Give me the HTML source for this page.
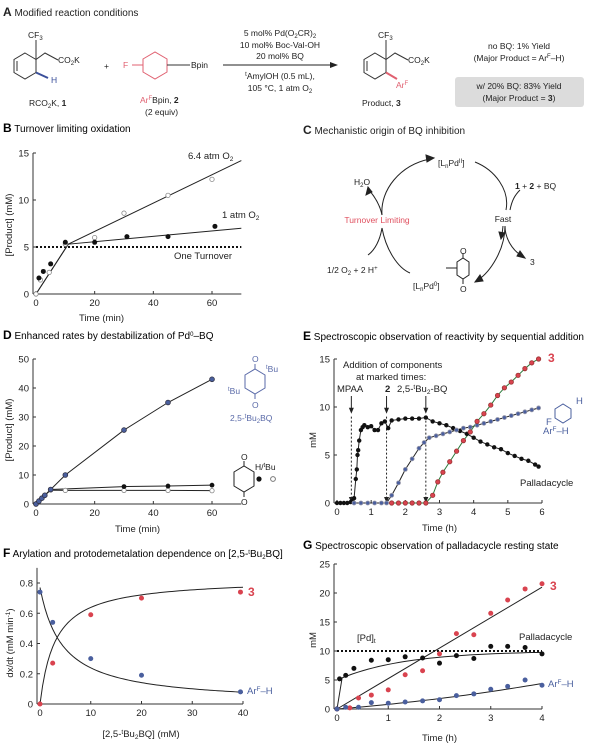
<!DOCTYPE html>
<html><head><meta charset="utf-8">
<style>
html,body{margin:0;padding:0;background:#fff;}
body{width:600px;height:745px;overflow:hidden;font-family:"Liberation Sans",sans-serif;}
svg text{font-family:"Liberation Sans",sans-serif;}
</style></head>
<body>
<svg id="fig" width="600" height="745" viewBox="0 0 600 745" xmlns="http://www.w3.org/2000/svg">
<!-- Panel A -->
<g font-size="8.5" fill="#222">
  <text x="3" y="16" font-size="10"><tspan font-weight="bold" font-size="12">A</tspan> Modified reaction conditions</text>
  <g stroke="#333" fill="none" stroke-width="1">
    <polygon points="25,53 36,59.5 36,72.5 25,79 14,72.5 14,59.5"/>
    <line x1="17" y1="61" x2="17" y2="71"/>
    <line x1="36" y1="59.5" x2="36" y2="40"/>
    <polyline points="36,59.5 45,53 58,60"/>
    <line x1="36" y1="72.5" x2="48" y2="78" stroke="#3a4f9a" stroke-width="2"/>
  </g>
  <text x="28" y="38">CF<tspan font-size="6" dy="2">3</tspan></text>
  <text x="58" y="63">CO<tspan font-size="6" dy="2">2</tspan><tspan dy="-2">K</tspan></text>
  <text x="51" y="83" fill="#3a4f9a">H</text>
  <text x="29" y="106">RCO<tspan font-size="6" dy="2">2</tspan><tspan dy="-2">K, </tspan><tspan font-weight="bold">1</tspan></text>
  <text x="104" y="69">+</text>
  <g stroke="#e06070" fill="none">
    <polygon points="143,59 155,52 167,59 167,72 155,79 143,72"/>
    <line x1="132" y1="65" x2="143" y2="65"/>
    <line x1="167" y1="65" x2="190" y2="65" stroke="#333"/>
  </g>
  <text x="123" y="68" fill="#e06070">F</text>
  <text x="191" y="68">Bpin</text>
  <text x="140" y="103"><tspan fill="#e06070">Ar<tspan font-size="6" dy="-3">F</tspan></tspan><tspan dy="3">Bpin, </tspan><tspan font-weight="bold">2</tspan></text>
  <text x="145" y="115">(2 equiv)</text>
  <g text-anchor="middle">
    <text x="280" y="36">5 mol% Pd(O<tspan font-size="6" dy="2">2</tspan><tspan dy="-2">CR)</tspan><tspan font-size="6" dy="2">2</tspan></text>
    <text x="280" y="48">10 mol% Boc-Val-OH</text>
    <text x="280" y="59">20 mol% BQ</text>
    <text x="280" y="79"><tspan font-size="6" dy="-3">t</tspan><tspan dy="3">AmylOH (0.5 mL),</tspan></text>
    <text x="280" y="91">105 °C, 1 atm O<tspan font-size="6" dy="2">2</tspan></text>
  </g>
  <line x1="223" y1="65" x2="333" y2="65" stroke="#222"/>
  <polygon points="338,65 330,62 330,68" fill="#222"/>
  <g stroke="#333" fill="none">
    <polygon points="375,53 386,59.5 386,72.5 375,79 364,72.5 364,59.5"/>
    <line x1="367" y1="61" x2="367" y2="71"/>
    <line x1="386" y1="59.5" x2="386" y2="40"/>
    <polyline points="386,59.5 395,53 408,60"/>
    <line x1="386" y1="72.5" x2="397" y2="79" stroke="#e06070" stroke-width="2"/>
  </g>
  <text x="378" y="38">CF<tspan font-size="6" dy="2">3</tspan></text>
  <text x="408" y="63">CO<tspan font-size="6" dy="2">2</tspan><tspan dy="-2">K</tspan></text>
  <text x="396" y="88" fill="#e06070">Ar<tspan font-size="6" dy="-3">F</tspan></text>
  <text x="362" y="106">Product, <tspan font-weight="bold">3</tspan></text>
  <text x="519" y="49" text-anchor="middle">no BQ: 1% Yield</text>
  <text x="519" y="61" text-anchor="middle">(Major Product = Ar<tspan font-size="6" dy="-3">F</tspan><tspan dy="3">–H)</tspan></text>
  <rect x="455" y="77" width="129" height="30" rx="3" fill="#dcdcdc"/>
  <text x="519" y="89" text-anchor="middle">w/ 20% BQ: 83% Yield</text>
  <text x="519" y="101" text-anchor="middle">(Major Product = <tspan font-weight="bold">3</tspan>)</text>
</g>
<!-- Panel C -->
<g font-size="8.5" fill="#222">
  <text x="303" y="134" font-size="10"><tspan font-weight="bold" font-size="12">C</tspan> Mechanistic origin of BQ inhibition</text>
  <g stroke="#222" fill="none" stroke-width="1">
    <path d="M382,215 C380,190 400,165 430,159"/>
    <polygon points="434,158 426,155 427,162" fill="#222"/>
    <path d="M382,215 C380,205 375,197 369,190" />
    <polygon points="368,187 366,195 372,192" fill="#222"/>
    <path d="M475,162 C495,170 510,190 506,210"/>
    <path d="M510,210 C512,200 515,195 520,190"/>
    <path d="M505,226 C505,250 490,272 478,280"/>
    <polygon points="475,282 483,281 480,275" fill="#222"/>
    <path d="M505,226 C505,238 512,250 522,256"/>
    <polygon points="525,258 520,251 517,256" fill="#222"/>
    <path d="M503,226 L502,235"/>
    <polygon points="501,239 499,232 505,233" fill="#222"/>
    <path d="M410,273 C398,268 386,250 382,228"/>
    <path d="M382,228 C380,240 375,250 368,255"/>
    <polygon points="457,262 463,258 469,262 469,275 463,279 457,275"/>
    <line x1="463" y1="258" x2="463" y2="253"/>
    <line x1="463" y1="279" x2="463" y2="284"/>
    <line x1="446" y1="268" x2="457" y2="268"/>
  </g>
  <text x="438" y="166">[L<tspan font-size="6" dy="2">n</tspan><tspan dy="-2">Pd</tspan><tspan font-size="6" dy="-3">II</tspan><tspan dy="3">]</tspan></text>
  <text x="354" y="185">H<tspan font-size="6" dy="2">2</tspan><tspan dy="-2">O</tspan></text>
  <text x="515" y="189"><tspan font-weight="bold">1</tspan> + <tspan font-weight="bold">2</tspan> + BQ</text>
  <text x="377" y="223" text-anchor="middle" fill="#e0505f">Turnover Limiting</text>
  <text x="503" y="222" text-anchor="middle">Fast</text>
  <text x="530" y="265">3</text>
  <text x="327" y="273">1/2 O<tspan font-size="6" dy="2">2</tspan><tspan dy="-2"> + 2 H</tspan><tspan font-size="6" dy="-3">+</tspan></text>
  <text x="413" y="289">[L<tspan font-size="6" dy="2">n</tspan><tspan dy="-2">Pd</tspan><tspan font-size="6" dy="-3">0</tspan><tspan dy="3">]</tspan></text>
  <text x="460" y="254">O</text>
  <text x="460" y="292">O</text>
</g>
<!-- Panel titles -->
<text x="3" y="132" font-size="10"><tspan font-weight="bold" font-size="12">B</tspan> Turnover limiting oxidation</text>
<text x="3" y="339" font-size="10"><tspan font-weight="bold" font-size="12">D</tspan> Enhanced rates by destabilization of Pd<tspan font-size="6" dy="-3">0</tspan><tspan dy="3">–BQ</tspan></text>
<text x="303" y="340" font-size="10"><tspan font-weight="bold" font-size="12">E</tspan> Spectroscopic observation of reactivity by sequential addition</text>
<text x="3" y="557" font-size="10"><tspan font-weight="bold" font-size="12">F</tspan> Arylation and protodemetalation dependence on [2,5-<tspan font-size="6" dy="-3">t</tspan><tspan dy="3">Bu</tspan><tspan font-size="6" dy="2">2</tspan><tspan dy="-2">BQ]</tspan></text>
<text x="303" y="549" font-size="10"><tspan font-weight="bold" font-size="12">G</tspan> Spectroscopic observation of palladacycle resting state</text>
<!-- D annotations -->
<g font-size="8.5" fill="#5a6aa8">
  <g stroke="#5a6aa8" fill="none">
    <polygon points="245,375 255,369 265,375 265,388 255,394 245,388"/>
    <line x1="255" y1="369" x2="255" y2="364"/><line x1="255" y1="394" x2="255" y2="399"/>
  </g>
  <text x="252" y="362">O</text><text x="252" y="408">O</text>
  <text x="266" y="372"><tspan font-size="6" dy="-3">t</tspan><tspan dy="3">Bu</tspan></text>
  <text x="228" y="394"><tspan font-size="6" dy="-3">t</tspan><tspan dy="3">Bu</tspan></text>
  <text x="230" y="421">2,5-<tspan font-size="6" dy="-3">t</tspan><tspan dy="3">Bu</tspan><tspan font-size="6" dy="2">2</tspan><tspan dy="-2">BQ</tspan></text>
</g>
<g font-size="8.5" fill="#222">
  <g stroke="#222" fill="none">
    <polygon points="234,472 244,466 254,472 254,486 244,492 234,486"/>
    <line x1="244" y1="466" x2="244" y2="461"/><line x1="244" y1="492" x2="244" y2="497"/>
  </g>
  <text x="241" y="460">O</text><text x="241" y="505">O</text>
  <text x="255" y="470">H/<tspan font-size="6" dy="-3">t</tspan><tspan dy="3">Bu</tspan></text>
  <circle cx="259" cy="479" r="2.6" fill="#111"/><circle cx="273" cy="479" r="2.4" fill="#fff" stroke="#777"/>
</g>
<g id="charts"></g>
</svg>
<script>
// ---------- data ----------
const bTime1 = [1, 2.5, 5, 10, 20, 31, 45, 61];
const bProd1 = [1.7, 2.4, 3.2, 5.5, 5.5, 6.1, 6.1, 7.2];
const bTime64 = [0, 1.5, 4.5, 10, 20, 30, 45, 60];
const bProd64 = [0, 1.5, 2.3, 5.3, 6.0, 8.6, 10.5, 12.2];
const bFitT = [0, 11, 70];
const bFit1 = [0, 5.3, 7.0];
const bFit64 = [0, 5.3, 14.2];
const bTicksX = [0, 20, 40, 60];
const bTicksY = [0, 5, 10, 15];

const dTime = [0, 1, 2, 3, 5, 10, 30, 45, 60];
const dBlue = [0, 1, 2, 3, 5, 10, 25.5, 35, 43];
const dTimeBQ = [0, 1, 2, 3, 5, 30, 45, 60];
const dFilled = [0, 1, 2, 3, 5, 6, 6.2, 6.5];
const dTimeH = [0, 1, 2, 3, 5, 10, 30, 45, 60];
const dOpen = [0, 1, 2, 3, 4.8, 4.7, 4.7, 4.7, 4.6];
const dTicksX = [0, 20, 40, 60];
const dTicksY = [0, 10, 20, 30, 40, 50];

const eTimePd = [0,0.1,0.2,0.3,0.4,0.45,0.5,0.55,0.58,0.6,0.62,0.65,0.7,0.75,0.8,0.9,1.0,1.1,1.2,1.3,1.4,1.5,1.6,1.8,2.0,2.2,2.4,2.6,2.8,3.0,3.2,3.4,3.6,3.8,4.0,4.2,4.4,4.6,4.8,5.0,5.2,5.4,5.6,5.8,5.9];
const ePd = [0,0,0,0,0.1,0.2,0.5,2.5,3.5,5,5.5,6.5,7.6,7.9,8.1,7.9,8.0,7.6,7.6,8.3,8.5,7.8,8.6,8.7,8.8,8.8,8.8,8.9,8.5,8.3,8.1,7.8,7.5,7.2,6.8,6.4,6.1,5.8,5.6,5.2,4.9,4.6,4.4,4.0,3.8];
const eTimeAr = [0.5,0.7,0.9,1.1,1.3,1.45,1.6,1.8,2.0,2.2,2.4,2.55,2.7,2.9,3.1,3.3,3.5,3.7,3.9,4.1,4.3,4.5,4.7,4.9,5.1,5.3,5.5,5.7,5.9];
const eAr = [0,0,0,0,0,0,0.8,2.1,3.5,4.6,5.7,6.3,6.8,7.0,7.2,7.4,7.6,7.8,7.9,8.1,8.3,8.5,8.7,8.9,9.1,9.3,9.5,9.7,9.9];
const eTime3 = [1.6,1.8,2.0,2.2,2.4,2.6,2.8,2.95,3.1,3.3,3.5,3.7,3.9,4.1,4.3,4.5,4.7,4.9,5.1,5.3,5.5,5.7,5.9];
const e3 = [0,0,0,0,0,0,0.8,2.2,3.2,4.3,5.4,6.5,7.4,8.5,9.3,10.2,11.2,12.0,12.6,13.3,14.0,14.6,15.0];
const eAdd = [0.42, 1.45, 2.6];
const eTicksX = [0,1,2,3,4,5,6];
const eTicksY = [0,5,10,15];

const fConc = [0, 2.5, 10, 20, 39.5];
const fArH = [0.74, 0.54, 0.30, 0.19, 0.08];
const f3 = [0.0, 0.27, 0.59, 0.70, 0.74];
const fFit3 = [0.83, 3.0];      // Vmax, K (saturation fit)
const fFitArH = [0.77, 4.5, 0.04]; // amplitude, K, offset
const fTicksX = [0,10,20,30,40];
const fTicksY = [0,0.2,0.4,0.6,0.8];

const gTime = [0,0.25,0.42,0.67,1,1.33,1.67,2,2.33,2.67,3,3.33,3.67,4];
const g3 = [0,0.2,1.9,2.4,3.3,5.9,6.6,9.5,13,12.8,16.5,18.8,20.7,21.6];
const gTimePd = [0,0.05,0.17,0.33,0.67,1,1.33,1.67,2,2.33,2.67,3,3.33,3.67,4];
const gPd = [0,5.2,5.8,7.0,8.4,8.5,9,8.8,7.9,9.2,8.7,10.8,10.8,10.6,9.5];
const gTimeAr = [0,0.17,0.42,0.67,1,1.33,1.67,2,2.33,2.67,3,3.33,3.67,4];
const gAr = [0,0.3,0.3,1.1,1,1.2,1.4,1.6,2.3,2.6,3.4,3.9,5,4.1];
const gFitT = [0, 4];
const gFit3 = [0, 21];
const gTicksX = [0,1,2,3,4];
const gTicksY = [0,5,10,15,20,25];

// ---------- helpers ----------
const NS = 'http://www.w3.org/2000/svg';
const root = document.getElementById('charts');
function mk(tag, attrs, parent) {
  const e = document.createElementNS(NS, tag);
  for (const k in attrs) e.setAttribute(k, attrs[k]);
  (parent || root).appendChild(e);
  return e;
}
function scale(d0, d1, r0, r1) { return v => r0 + (v - d0) * (r1 - r0) / (d1 - d0); }
function axes(g, sx, sy, xt, yt, xr, yr, fmtY) {
  const xa = mk('line', {x1: sx(xr[0]), x2: sx(xr[1]), y1: sy(yr[0]), y2: sy(yr[0]), stroke: '#333'}, g);
  
  
  const ya = mk('line', {x1: sx(xr[0]) - 3, x2: sx(xr[0]) - 3, y1: sy(yr[0]), y2: sy(yr[1]), stroke: '#333'}, g);
  
  
  xt.forEach(v => {
    mk('line', {x1: sx(v), x2: sx(v), y1: sy(yr[0]), y2: sy(yr[0]) - 3, stroke: '#333'}, g);
    const t = mk('text', {x: sx(v), y: sy(yr[0]) + 12, 'text-anchor': 'middle', 'font-size': 9.5, fill: '#222'}, g);
    t.textContent = v;
    
    
  });
  yt.forEach(v => {
    mk('line', {x1: sx(xr[0]) - 3, x2: sx(xr[0]), y1: sy(v), y2: sy(v), stroke: '#333'}, g);
    const t = mk('text', {x: sx(xr[0]) - 7, y: sy(v) + 3.5, 'text-anchor': 'end', 'font-size': 9.5, fill: '#222'}, g);
    t.textContent = fmtY ? fmtY(v) : v;
    
    
  });
}
function label(g, x, y, txt, opts, name) {
  const t = mk('text', Object.assign({x, y, 'font-size': 9.5, fill: '#222'}, opts || {}), g);
  t.innerHTML = txt;
  
  
  return t;
}
function line(g, xs, ys, sx, sy, attrs, name) {
  const p = mk('polyline', Object.assign({points: xs.map((x, i) => sx(x) + ',' + sy(ys[i])).join(' '), fill: 'none', stroke: '#222', 'stroke-width': 1}, attrs || {}), g);
  
  
  return p;
}
function pts(g, xs, ys, sx, sy, fill, stroke, r, name) {
  xs.forEach((x, i) => {
    const c = mk('circle', {cx: sx(x), cy: sy(ys[i]), r: r || 2.5, fill, stroke: stroke || 'none', 'stroke-width': 0.8}, g);
    
    
  });
}
function group(name) {
  const g = mk('g', {});
  
  
  return g;
}
const RED = '#d9434f', BLUE = '#4a5f9e';

// ---------- B ----------
(function () {
  const g = group('chart-b');
  const sx = scale(0, 60, 36, 212), sy = scale(0, 15, 294, 153);
  axes(g, sx, sy, bTicksX, bTicksY, [0, 70], [0, 15]);
  label(g, 79, 321, 'Time (min)', {}, 'x-axis-title');
  label(g, 0, 0, '[Product] (mM)', {transform: 'translate(12,225) rotate(-90)', 'text-anchor': 'middle'}, 'y-axis-title');
  const dl = mk('line', {x1: sx(0), x2: sx(70), y1: sy(5), y2: sy(5), stroke: '#111', 'stroke-width': 2, 'stroke-dasharray': '2,2'}, g);
  
  
  label(g, 174, 259, 'One Turnover', {}, 'one-turnover-label');
  line(g, bFitT, bFit64, sx, sy, {}, 'fit-6-4-atm');
  line(g, bFitT, bFit1, sx, sy, {}, 'fit-1-atm');
  pts(g, bTime64, bProd64, sx, sy, '#fff', '#888', 2.2, 'point-6-4-atm');
  pts(g, bTime1, bProd1, sx, sy, '#111', null, 2.5, 'point-1-atm');
  label(g, 188, 159, '6.4 atm O<tspan font-size="6.5" dy="2">2</tspan>', {}, 'label-6-4-atm');
  label(g, 222, 218, '1 atm O<tspan font-size="6.5" dy="2">2</tspan>', {}, 'label-1-atm');
})();

// ---------- D ----------
(function () {
  const g = group('chart-d');
  const sx = scale(0, 60, 36, 212), sy = scale(0, 50, 504, 359);
  axes(g, sx, sy, dTicksX, dTicksY, [0, 70], [0, 50]);
  label(g, 115, 532, 'Time (min)', {}, 'x-axis-title');
  label(g, 0, 0, '[Product] (mM)', {transform: 'translate(12,430) rotate(-90)', 'text-anchor': 'middle'}, 'y-axis-title');
  line(g, dTime, dBlue, sx, sy, {}, 'curve-tbu2bq');
  line(g, dTimeBQ, dFilled, sx, sy, {}, 'curve-bq');
  line(g, dTimeH, dOpen, sx, sy, {}, 'curve-tbubq');
  pts(g, dTimeH, dOpen, sx, sy, '#fff', '#888', 2.2, 'point-tbubq');
  pts(g, dTimeBQ, dFilled, sx, sy, '#111', null, 2.4, 'point-bq');
  pts(g, dTime, dBlue, sx, sy, BLUE, '#334', 2.4, 'point-tbu2bq');
})();

// ---------- E ----------
(function () {
  const g = group('chart-e');
  const sx = scale(0, 6, 337, 542), sy = scale(0, 15, 503, 359);
  axes(g, sx, sy, eTicksX, eTicksY, [0, 6], [0, 15]);
  label(g, 422, 531, 'Time (h)', {}, 'x-axis-title');
  label(g, 0, 0, 'mM', {transform: 'translate(316,440) rotate(-90)', 'text-anchor': 'middle'}, 'y-axis-title');
  label(g, 343, 368, 'Addition of components', {}, 'addition-note');
  label(g, 356, 380, 'at marked times:', {}, 'addition-note-2');
  label(g, 337, 392, 'MPAA', {}, 'mpaa-label');
  label(g, 385, 392, '<tspan font-weight="bold">2</tspan>', {}, 'reagent-2-label');
  label(g, 397, 392, '2,5-<tspan font-size="6.5" dy="-3">t</tspan><tspan dy="3">Bu</tspan><tspan font-size="6.5" dy="2">2</tspan><tspan dy="-2">-BQ</tspan>', {}, 'bq-add-label');
  eAdd.forEach(t => {
    const a = mk('line', {x1: sx(t), x2: sx(t), y1: 396, y2: sy(9.5), stroke: '#222'}, g);
    
    
    mk('polygon', {points: `${sx(t)},${sy(9.3)} ${sx(t) - 2.5},${sy(9.3) - 6} ${sx(t) + 2.5},${sy(9.3) - 6}`, fill: '#222'}, g);
    const d = mk('line', {x1: sx(t), x2: sx(t), y1: sy(9), y2: sy(0), stroke: '#222', 'stroke-dasharray': '2,2'}, g);
    
    
    mk('polygon', {points: `${sx(t)},${sy(0)} ${sx(t) - 2.5},${sy(0) - 6} ${sx(t) + 2.5},${sy(0) - 6}`, fill: '#222'}, g);
  });
  line(g, eTimePd, ePd, sx, sy, {}, 'fit-palladacycle');
  line(g, eTimeAr, eAr, sx, sy, {}, 'fit-arf-h');
  line(g, eTime3, e3, sx, sy, {stroke: '#2a7a3a'}, 'fit-product-3');
  pts(g, eTimePd, ePd, sx, sy, '#111', null, 2.2, 'point-palladacycle');
  pts(g, eTimeAr, eAr, sx, sy, BLUE, '#99a', 2, 'point-arf-h');
  pts(g, eTime3, e3, sx, sy, RED, '#933', 2.2, 'point-product-3');
  label(g, 548, 362, '3', {fill: RED, 'font-size': 12, 'font-weight': 'bold'}, 'label-3');
  label(g, 520, 486, 'Palladacycle', {}, 'label-palladacycle');
  label(g, 543, 434, 'Ar<tspan font-size="6.5" dy="-3">F</tspan><tspan dy="3">–H</tspan>', {fill: BLUE}, 'label-arf-h');
  const ring = mk('polygon', {points: '555,409 563,404 571,409 571,418 563,423 555,418', fill: 'none', stroke: BLUE}, g);
  
  
  label(g, 546, 425, 'F', {fill: BLUE}, 'label-f');
  label(g, 576, 404, 'H', {fill: BLUE}, 'label-h');
})();

// ---------- F ----------
(function () {
  const g = group('chart-f');
  const sx = scale(0, 40, 40, 243), sy = scale(0, 0.8, 704, 583);
  axes(g, sx, sy, fTicksX, fTicksY, [0, 40], [0, 0.9], v => v === 0 ? '0' : v.toFixed(1));
  label(g, 141, 737, '[2,5-<tspan font-size="6.5" dy="-3">t</tspan><tspan dy="3">Bu</tspan><tspan font-size="6.5" dy="2">2</tspan><tspan dy="-2">BQ] (mM)</tspan>', {'text-anchor': 'middle'}, 'x-axis-title');
  label(g, 0, 0, 'dx/dt (mM min<tspan font-size="6.5" dy="-3">-1</tspan><tspan dy="3">)</tspan>', {transform: 'translate(13,643) rotate(-90)', 'text-anchor': 'middle'}, 'y-axis-title');
  const xs = [];
  for (let i = 0; i <= 80; i++) xs.push(i * 0.5);
  line(g, xs, xs.map(x => fFit3[0] * x / (fFit3[1] + x)), sx, sy, {}, 'fit-product-3');
  line(g, xs, xs.map(x => fFitArH[0] / (1 + x / fFitArH[1]) + fFitArH[2] * 0), sx, sy, {}, 'fit-arf-h');
  pts(g, fConc, fArH, sx, sy, BLUE, null, 2.5, 'point-arf-h');
  pts(g, fConc, f3, sx, sy, RED, null, 2.5, 'point-product-3');
  label(g, 248, 596, '3', {fill: RED, 'font-size': 12, 'font-weight': 'bold'}, 'label-3');
  label(g, 247, 694, 'Ar<tspan font-size="6.5" dy="-3">F</tspan><tspan dy="3">–H</tspan>', {fill: BLUE}, 'label-arf-h');
})();

// ---------- G ----------
(function () {
  const g = group('chart-g');
  const sx = scale(0, 4, 337, 542), sy = scale(0, 25, 709, 564);
  axes(g, sx, sy, gTicksX, gTicksY, [0, 4], [0, 25]);
  label(g, 422, 741, 'Time (h)', {}, 'x-axis-title');
  label(g, 0, 0, 'mM', {transform: 'translate(316,640) rotate(-90)', 'text-anchor': 'middle'}, 'y-axis-title');
  const dl = mk('line', {x1: sx(0), x2: sx(4), y1: sy(10), y2: sy(10), stroke: '#111', 'stroke-width': 2, 'stroke-dasharray': '2,2'}, g);
  
  
  label(g, 357, 641, '[Pd]<tspan font-size="6.5" dy="2">t</tspan>', {}, 'pd-total-label');
  const xs = [];
  for (let i = 0; i <= 40; i++) xs.push(i * 0.1);
  line(g, xs, xs.map(t => t === 0 ? 0 : 5 + 5 * (1 - Math.exp(-t / 1.3)) ), sx, sy, {}, 'fit-palladacycle');
  line(g, gFitT, gFit3, sx, sy, {}, 'fit-product-3');
  line(g, xs, xs.map(t => 0.7 * t + 0.1 * t * t), sx, sy, {}, 'fit-arf-h');
  pts(g, gTimePd, gPd, sx, sy, '#111', null, 2.5, 'point-palladacycle');
  pts(g, gTime, g3, sx, sy, RED, null, 2.5, 'point-product-3');
  pts(g, gTimeAr, gAr, sx, sy, BLUE, null, 2.5, 'point-arf-h');
  label(g, 550, 590, '3', {fill: RED, 'font-size': 12, 'font-weight': 'bold'}, 'label-3');
  label(g, 519, 640, 'Palladacycle', {}, 'label-palladacycle');
  label(g, 548, 687, 'Ar<tspan font-size="6.5" dy="-3">F</tspan><tspan dy="3">–H</tspan>', {fill: BLUE}, 'label-arf-h');
})();
</script>
</body></html>
